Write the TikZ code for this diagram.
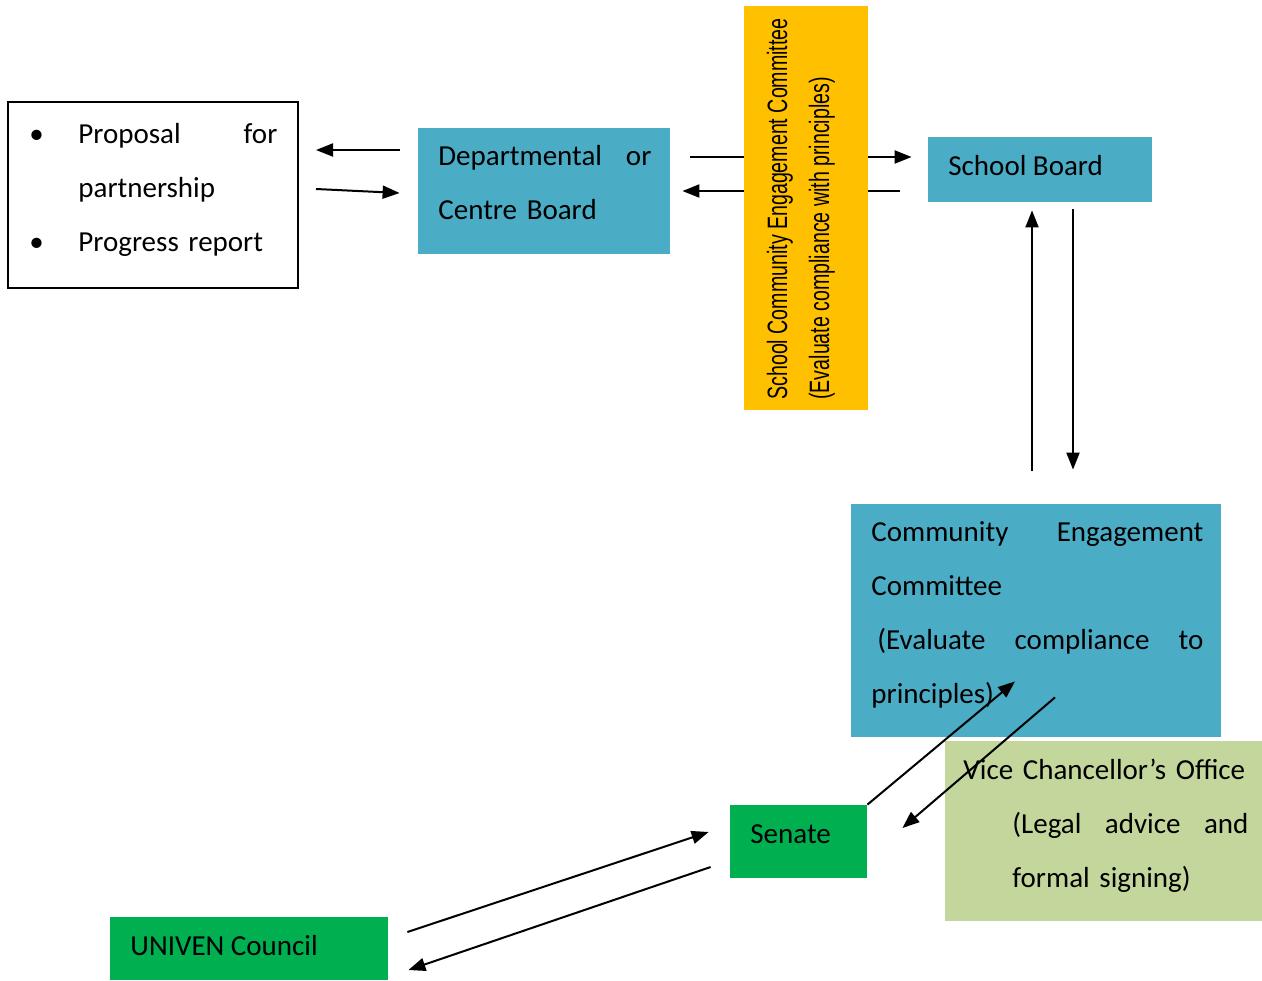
\documentclass[tikz,border=0pt]{standalone}
\usepackage{fontspec}
\setmainfont{Carlito}
\newfontfamily\narrowsans[FakeStretch=0.70]{Liberation Sans}
\usetikzlibrary{arrows.meta,fit}

\definecolor{boardblue}{HTML}{4BACC6}
\definecolor{scecyellow}{HTML}{FFC000}
\definecolor{senategreen}{HTML}{00B050}
\definecolor{vcgreen}{HTML}{C3D69B}

\tikzset{
  box/.style={inner sep=0pt},
  txt/.style={inner sep=0pt, anchor=base west, align=left, font=\fontsize{14.5}{27}\selectfont},
  arr/.style={line width=1pt, -{Triangle[length=8.5pt,width=6.5pt]}},
}

\begin{document}
\begin{tikzpicture}[x=0.5pt,y=-0.5pt]
\useasboundingbox (0,0) rectangle (1262,980);

% boxes
\node[box, draw=black, line width=1pt, fit={(8,102) (298,288)}] (list) {};
\node[box, fill=boardblue, fit={(418,128) (670,254)}] (dept) {};
\node[box, fill=boardblue, fit={(928,137) (1152,202)}] (school) {};
\node[box, fill=boardblue, fit={(851,504) (1221,737)}] (cec) {};
\node[box, fill=vcgreen, fit={(945,741) (1262,921)}] (vc) {};
\node[box, fill=senategreen, fit={(730,805) (867,878)}] (senate) {};
\node[box, fill=senategreen, fit={(110,917) (388,980)}] (council) {};

% texts
\node[txt, text width=122.5pt] (listtxt) at (32,143)
  {\makebox[23pt][l]{\hspace*{-1.5pt}\textbullet}Proposal\hfill for\\\hspace*{23pt}partnership\\\makebox[23pt][l]{\hspace*{-1.5pt}\textbullet}Progress report};
\node[txt, text width=106.5pt] (depttxt) at (438,165) {Departmental\hfill or\\Centre Board};
\node[txt] (schooltxt) at (948,175) {School Board};
\node[txt, text width=166pt] (cectxt) at (871,541)
  {Community\hfill Engagement\\Committee\\\hspace*{3pt}(Evaluate\hfill compliance\hfill to\\principles)};
\node[txt, text width=142.5pt] (vctxt) at (963,779)
  {Vice Chancellor’s Office\\\hspace*{24.5pt}(Legal\hfill advice\hfill and\\\hspace*{24.5pt}formal signing)};
\node[txt] (senatetxt) at (750,843) {Senate};
\node[txt] (counciltxt) at (130,955) {UNIVEN Council};

% arrows
\draw[arr] ([shift={(-18,-41)}]dept.west) -- ([shift={(17,-45)}]list.east);
\draw[arr] ([shift={(17,-6)}]list.east) -- ([shift={(-18,2)}]dept.west);
\draw[arr] ([shift={(20,-34)}]dept.east) -- ([shift={(-16,-12.5)}]school.west);
\draw[arr] ([shift={(-28,21.5)}]school.west) -- ([shift={(12,0)}]dept.east);

% yellow committee box over the arrows
\node[box, fill=scecyellow, fit={(744,6) (868,410)}] (scec) {};
\node[rotate=90, anchor=base west, inner sep=0pt, align=left,
  font=\narrowsans\fontsize{14}{21}\selectfont] (scectxt) at (829,400)
  {School Community Engagement Committee\\(Evaluate compliance with principles)};

\draw[arr] ([shift={(-4,-33)}]cec.north) -- ([shift={(-8,8)}]school.south);
\draw[arr] ([shift={(33,7)}]school.south) -- ([shift={(37,-34)}]cec.north);
\draw[arr] (senate.north east) -- ([shift={(-21,-56)}]cec.south);
\draw[arr] ([shift={(19,-40)}]cec.south) -- ([shift={(35,-13.5)}]senate.east);
\draw[arr] ([shift={(19,-16.5)}]council.east) -- ([shift={(-21,-9.5)}]senate.west);
\draw[arr] ([shift={(-19,25.5)}]senate.west) -- ([shift={(20,21.5)}]council.east);

\end{tikzpicture}
\end{document}
